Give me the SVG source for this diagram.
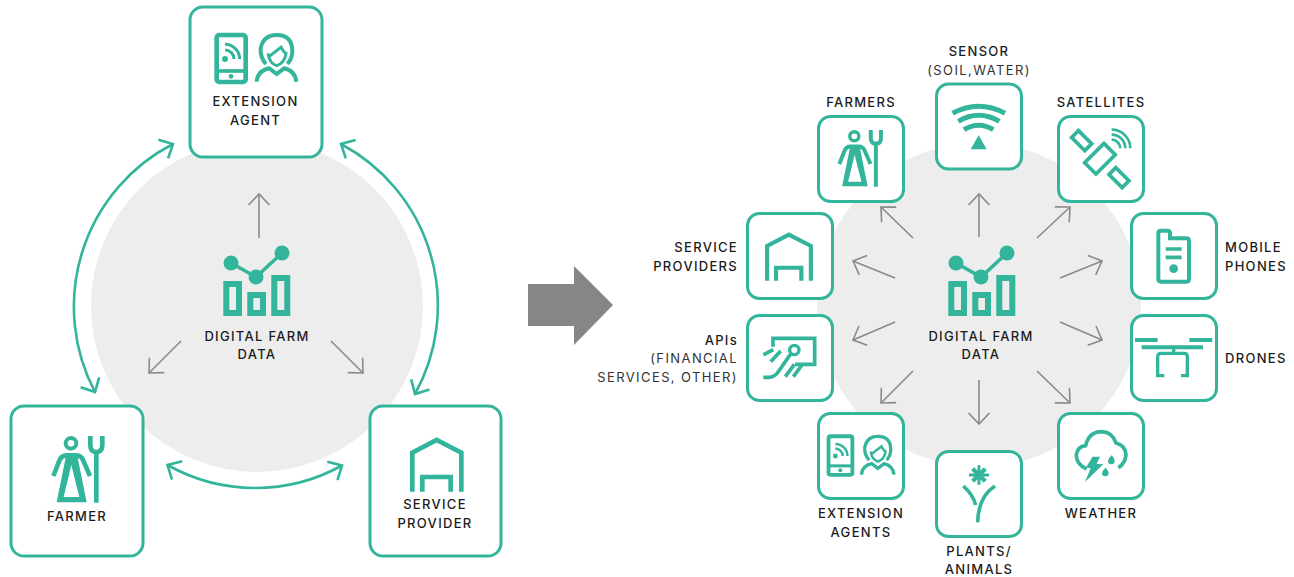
<svg xmlns="http://www.w3.org/2000/svg" width="1294" height="577" viewBox="0 0 1294 577">
<style>
text{font-family:"Inter","Liberation Sans",sans-serif;font-size:13px;font-weight:500;fill:#1c1c1c;letter-spacing:1.3px}
.l{font-weight:400;fill:#333;letter-spacing:1.4px}
.m{text-anchor:middle}.e{text-anchor:end}
.box{fill:#fff;stroke:#33b59b;stroke-width:3}
.s{fill:none;stroke:#33b59b}
.f{fill:#33b59b}
.bg{fill:#ededed}
.ga{fill:none;stroke:#8a8a8a;stroke-width:1.6;marker-end:url(#gh)}
.ca{fill:none;stroke:#33b59b;stroke-width:2.6;marker-start:url(#ch);marker-end:url(#ch)}
</style>
<defs>
<marker id="gh" markerUnits="userSpaceOnUse" markerWidth="24" markerHeight="24" refX="12" refY="12" orient="auto"><path d="M1 1.500L12 12L1 22.500" fill="none" stroke="#8a8a8a" stroke-width="1.6"/></marker>
<marker id="ch" markerUnits="userSpaceOnUse" markerWidth="24" markerHeight="24" refX="14" refY="12" orient="auto-start-reverse"><path d="M3 1.500L14 12L3 22.500" fill="none" stroke="#33b59b" stroke-width="2.6"/></marker>
<g id="i-data">
<g class="s" stroke-width="6"><rect x="226.300" y="284" width="12.700" height="29"/><rect x="250.300" y="295" width="12.700" height="18"/><rect x="274.300" y="278" width="13" height="35"/></g>
<path class="s" stroke-width="3.500" d="M231 263L256 277L282 253"/>
<circle class="f" cx="231" cy="263" r="7.500"/><circle class="f" cx="256" cy="277" r="7.500"/><circle class="f" cx="282" cy="253" r="7.500"/>
</g>
<g id="i-farmer">
<circle class="s" stroke-width="12" cx="213" cy="130" r="16"/>
<path class="s" stroke-width="14" d="M160 228L178 182Q184 166 200 166H228Q244 166 250 182L270 228"/>
<path class="f" fill-rule="evenodd" d="M198 168L170 307H260L232 168ZM214 195L191 291H238Z"/>
<path class="s" stroke-width="14" d="M271 108V135Q271 156 289 156Q307 156 307 135V108M289 156V308"/>
</g>
<g id="i-house">
<path class="s" stroke-width="14" d="M157 275V158L230 120L304 158V275M187 275V231H272V275"/>
</g>
<g id="i-agent">
<rect class="s" stroke-width="14" x="110" y="105" width="87" height="141" rx="8"/>
<path class="s" stroke-width="11" d="M108 213H199"/>
<circle class="f" cx="153" cy="229" r="7"/><circle class="f" cx="135" cy="177" r="9"/>
<path class="s" stroke-width="9" d="M135 150A27 27 0 0 1 162 177M135 133A44 44 0 0 1 179 177"/>
<path class="s" stroke-width="12" d="M258 192Q240 172 242 145Q250 105 290 105Q335 105 337 150Q338 175 322 192"/>
<path class="s" stroke-width="9" d="M264 172L303 142Q312 158 318 160Q315 188 290 197Q268 190 264 160"/>
<path class="s" stroke-width="12" d="M230 245Q233 212 268 205L290 222L312 205Q345 212 349 245"/>
</g>
</defs>

<g id="backgrounds">
<circle class="bg" cx="257" cy="306" r="166"/>
<circle class="bg" cx="979" cy="305" r="162"/>
</g>

<g id="connectors">
<path class="ga" d="M259 238V194"/>
<path class="ga" d="M181 341L149 373"/>
<path class="ga" d="M331 341L363 373"/>
<path class="ca" d="M173 144A183 183 0 0 0 95 392"/>
<path class="ca" d="M341 144A183 183 0 0 1 415 394"/>
<path class="ca" d="M167.500 465A179 179 0 0 0 342 465.500"/>
<path class="ga" d="M979 237V194"/>
<path class="ga" d="M979 380V424"/>
<path class="ga" d="M913 238L881 207"/>
<path class="ga" d="M1037 238L1070 207"/>
<path class="ga" d="M913 371L881 403"/>
<path class="ga" d="M1037 371L1070 403"/>
<path class="ga" d="M895 278L853 261"/>
<path class="ga" d="M1060 278L1102 261"/>
<path class="ga" d="M895 322L853 340"/>
<path class="ga" d="M1060 322L1102 340"/>
</g>

<polygon id="big-arrow" fill="#868686" points="528,284 574,284 574,266 613,305 574,345 574,326 528,326"/>

<g id="data-left">
<use href="#i-data"/>
<text class="m" x="257" y="341">DIGITAL FARM</text><text class="m" x="257" y="359">DATA</text>
</g>
<g id="extension-agent">
<rect class="box" x="190" y="7" width="132" height="150" rx="13"/>
<use href="#i-agent" transform="translate(180,0) scale(.3333)"/>
<text class="m" x="255.500" y="106">EXTENSION</text><text class="m" x="255.500" y="125">AGENT</text>
</g>
<g id="farmer">
<rect class="box" x="11" y="406" width="132" height="150" rx="13"/>
<use href="#i-farmer" transform="translate(0,400) scale(.3333)"/>
<text class="m" x="77" y="521">FARMER</text>
</g>
<g id="service-provider">
<rect class="box" x="370" y="406" width="131" height="150" rx="13"/>
<use href="#i-house" transform="translate(360,400) scale(.3333)"/>
<text class="m" x="435" y="509">SERVICE</text><text class="m" x="435" y="528">PROVIDER</text>
</g>

<g id="data-right">
<use href="#i-data" transform="translate(725,0)"/>
<text class="m" x="981" y="341">DIGITAL FARM</text><text class="m" x="981" y="359">DATA</text>
</g>
<g id="sensor">
<rect class="box" x="936.500" y="84" width="85" height="85" rx="12"/>
<g transform="translate(810,30) scale(.3333)">
<path class="s" stroke-width="15" d="M428 250Q506 208 585 250M445 274Q506 238 568 274M462 299Q506 272 550 299"/>
<polygon class="f" points="506,316 482,358 530,358"/>
</g>
<text class="m" x="979" y="56">SENSOR</text><text class="m l" x="979" y="75">(SOIL,WATER)</text>
</g>
<g id="farmers">
<rect class="box" x="818.500" y="116.500" width="85" height="85" rx="12"/>
<use href="#i-farmer" transform="translate(794,99.400) scale(.2833)"/>
<text class="m" x="861" y="107">FARMERS</text>
</g>
<g id="satellites">
<rect class="box" x="1058.500" y="116.500" width="85" height="85" rx="12"/>
<g transform="translate(810,30) scale(.3333)">
<g class="s" stroke-width="11">
<rect x="-41" y="-24" width="82" height="48" transform="translate(870,386) rotate(-45)"/>
<rect x="-28" y="-14.500" width="56" height="29" transform="translate(815,332) rotate(45)"/>
<rect x="-28" y="-14.500" width="56" height="29" transform="translate(927,443) rotate(45)"/>
</g>
<path class="s" stroke-width="8" d="M905 299A56 56 0 0 1 961 355M905 314A41 41 0 0 1 946 355M905 329A26 26 0 0 1 931 355"/>
</g>
<text class="m" x="1101" y="107">SATELLITES</text>
</g>
<g id="service-providers">
<rect class="box" x="747.500" y="213.500" width="85" height="85" rx="12"/>
<use href="#i-house" transform="translate(720.300,198.900) scale(.298)"/>
<text class="e" x="738" y="252">SERVICE</text><text class="e" x="738" y="271">PROVIDERS</text>
</g>
<g id="apis">
<rect class="box" x="747.500" y="315.500" width="85" height="85" rx="12"/>
<g transform="translate(740,205) scale(.3333)">
<path class="s" stroke-width="11" d="M99 425V400H224V478H165"/>
<circle class="s" stroke-width="10" cx="163" cy="435" r="14"/>
<path class="s" stroke-width="11" d="M70 517H85Q105 517 115 500L152 447M70 450L100 434M92 470L122 438M136 515L163 478M160 515L186 480"/>
</g>
<text class="e" x="738" y="345">APIs</text><text class="e l" x="738" y="363">(FINANCIAL</text><text class="e l" x="738" y="382">SERVICES, OTHER)</text>
</g>
<g id="mobile-phones">
<rect class="box" x="1131.500" y="213.500" width="85" height="85" rx="12"/>
<g transform="translate(1125,205) scale(.3333)">
<path class="s" stroke-width="12" d="M100 85Q100 77 108 77H127Q135 77 135 85V100H184Q192 100 192 108V222Q192 230 184 230H108Q100 230 100 222Z"/>
<path class="s" stroke-width="11" d="M122 132H170M122 157H170"/>
<circle class="f" cx="146" cy="191" r="13"/>
</g>
<text x="1225" y="252">MOBILE</text><text x="1225" y="271">PHONES</text>
</g>
<g id="drones">
<rect class="box" x="1131.500" y="315.500" width="85" height="85" rx="12"/>
<g transform="translate(1125,205) scale(.3333)">
<path class="s" stroke-width="12" d="M30 405H98M193 405H262M50 427H234"/>
<path class="s" stroke-width="10" d="M146 427V445M118 512H98V455Q98 445 108 445H178Q187 445 187 455V512H168"/>
</g>
<text x="1225" y="363">DRONES</text>
</g>
<g id="extension-agents">
<rect class="box" x="818.500" y="413.500" width="85" height="85" rx="12"/>
<use href="#i-agent" transform="translate(798.400,407.500) scale(.274)"/>
<text class="m" x="861" y="518">EXTENSION</text><text class="m" x="861" y="537">AGENTS</text>
</g>
<g id="plants-animals">
<rect class="box" x="936.500" y="451.500" width="85" height="85" rx="12"/>
<g transform="translate(810,405) scale(.3333)">
<path class="s" stroke-width="11" d="M460 243Q490 270 497 300M555 243Q505 275 503 352"/>
<path class="s" stroke-width="13" d="M488 191L526 229M526 191L488 229"/>
<path class="s" stroke-width="9" d="M507 181V239M477 210H537"/>
</g>
<text class="m" x="979" y="556">PLANTS/</text><text class="m" x="979" y="574">ANIMALS</text>
</g>
<g id="weather">
<rect class="box" x="1058.500" y="413.500" width="85" height="85" rx="12"/>
<g transform="translate(810,405) scale(.3333)">
<path class="s" stroke-width="11" d="M830 192Q799 178 799 150Q802 125 827 122Q837 80 875 80Q908 82 918 114Q948 122 948 150Q946 175 925 188"/>
<polygon class="f" points="848,155 870,155 860,176 880,178 825,231 842,190 828,187"/>
<path class="f" d="M906 150Q914 162 914 168A10 10 0 0 1 894 168Q896 158 906 150ZM887 188Q896 198 896 204A10 10 0 0 1 876 204Q878 194 887 188Z"/>
</g>
<text class="m" x="1101" y="518">WEATHER</text>
</g>
</svg>
